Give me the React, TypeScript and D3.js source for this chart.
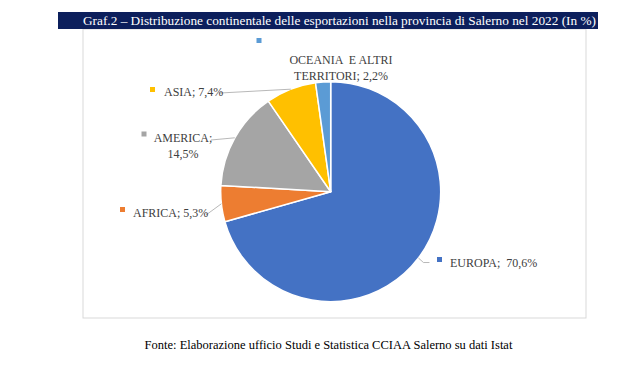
import React from "react";
import * as d3 from "d3";

const categories = ["EUROPA", "AFRICA", "AMERICA", "ASIA", "OCEANIA E ALTRI TERRITORI"];
const values = [70.6, 5.3, 14.5, 7.4, 2.2];
const valueLabels = ["70,6%", "5,3%", "14,5%", "7,4%", "2,2%"];
const colors = ["#4472C4", "#ED7D31", "#A5A5A5", "#FFC000", "#5B9BD5"];

const title = "Graf.2 – Distribuzione continentale delle esportazioni nella provincia di Salerno nel 2022 (In %)";
const source = "Fonte: Elaborazione ufficio Studi e Statistica CCIAA Salerno su dati Istat";

// label placement (Excel-like), one per slice
const labelLayout = [
  { lines: ["EUROPA;  70,6%"], x: 450, y: 267, anchor: "start", key: [437, 257], leader: "elbow" },
  { lines: ["AFRICA; 5,3%"], x: 133, y: 216.5, anchor: "start", key: [120, 207], leader: [206, 215] },
  { lines: ["AMERICA;", "14,5%"], x: 183, y: 141.5, anchor: "middle", key: [141.5, 131.5], leader: [211, 140] },
  { lines: ["ASIA; 7,4%"], x: 164, y: 96, anchor: "start", key: [150, 87], leader: [220, 93] },
  { lines: ["OCEANIA  E ALTRI", "TERRITORI; 2,2%"], x: 341, y: 63.5, anchor: "middle", key: [256.5, 38], leader: null },
];

export default function App() {
  const W = 621;
  const H = 375;
  const cx = 330.7;
  const cy = 191.7;
  const r = 110;

  const pie = d3.pie<number>().sort(null).value((d) => d);
  const arcs = pie(values);
  const arc = d3.arc<d3.PieArcDatum<number>>().innerRadius(0).outerRadius(r);

  const edge = (a: d3.PieArcDatum<number>) => {
    const m = (a.startAngle + a.endAngle) / 2;
    return [cx + r * Math.sin(m), cy - r * Math.cos(m)];
  };

  return (
    <svg width={W} height={H} style={{ position: "absolute", left: 0, top: 0, background: "#fff" }}>
      <rect x={0} y={0} width={W} height={H} fill="#fff" />
      {/* chart box */}
      <rect x={83} y={29} width={503} height={289} fill="#fff" stroke="#D9D9D9" strokeWidth={1} />
      {/* title bar */}
      <rect x={58} y={12} width={540} height={17} fill="#0C1F5C" />
      <text
        x={83}
        y={25}
        fill="#fff"
        fontFamily="'Liberation Serif', 'Times New Roman', serif"
        fontSize={13}
        textLength={513}
        lengthAdjust="spacingAndGlyphs"
      >
        {title}
      </text>

      <g transform={`translate(${cx},${cy})`}>
        {arcs.map((a, i) => (
          <path key={i} d={arc(a) || ""} fill={colors[i]} stroke="#fff" strokeWidth={1.5} strokeLinejoin="round" />
        ))}
      </g>

      {arcs.map((a, i) => {
        const L = labelLayout[i];
        const [ex, ey] = edge(a);
        let leader = null;
        if (L.leader === "elbow") {
          leader = <polyline points={`${ex},${ey} ${ex + 5},${ey + 4.5} ${ex + 11},${ey + 4.5}`} fill="none" stroke="#A6A6A6" strokeWidth={0.8} />;
        } else if (Array.isArray(L.leader)) {
          leader = <line x1={L.leader[0]} y1={L.leader[1]} x2={ex} y2={ey} stroke="#A6A6A6" strokeWidth={0.8} />;
        }
        return (
          <g key={i}>
            {leader}
            <rect x={L.key[0]} y={L.key[1]} width={5} height={5} fill={colors[i]} />
            <text
              fill="#404040"
              fontFamily="'Liberation Serif', 'Times New Roman', serif"
              fontSize={12}
              textAnchor={L.anchor as any}
            >
              {L.lines.map((ln, j) => (
                <tspan key={j} x={L.x} y={L.y + j * 16} style={{ whiteSpace: "pre" }}>
                  {ln}
                </tspan>
              ))}
            </text>
          </g>
        );
      })}

      <text x={328.5} y={349} textAnchor="middle" fill="#000" fontFamily="'Liberation Serif', 'Times New Roman', serif" fontSize={12.5}>
        {source}
      </text>
    </svg>
  );
}
